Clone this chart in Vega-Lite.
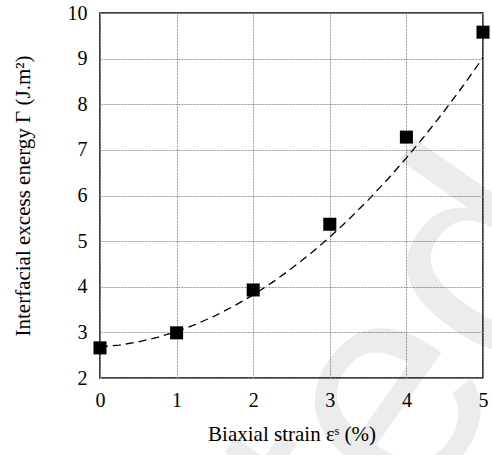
{
  "$schema": "https://vega.github.io/schema/vega-lite/v6.json",
  "autosize": {"type": "none"},
  "padding": {"left": 100, "top": 13, "right": 9, "bottom": 77},
  "width": 383,
  "height": 365,
  "background": "white",
  "config": {
    "view": {"stroke": "black", "strokeWidth": 1.5},
    "font": "Liberation Serif",
    "axis": {
      "labelFont": "Liberation Serif",
      "titleFont": "Liberation Serif",
      "labelFontSize": 20,
      "titleFontSize": 21,
      "titleFontWeight": "normal",
      "labelColor": "black",
      "titleColor": "black",
      "domain": false,
      "ticks": false,
      "grid": true,
      "gridColor": "#999999",
      "gridDash": [2, 1],
      "gridWidth": 1
    }
  },
  "datasets": {
    "points": [
      {"strain": 0, "energy": 2.66},
      {"strain": 1, "energy": 2.99},
      {"strain": 2, "energy": 3.93},
      {"strain": 3, "energy": 5.37},
      {"strain": 4, "energy": 7.28},
      {"strain": 5, "energy": 9.58}
    ],
    "fit": [
      {"strain": 0, "energy": 2.68},
      {"strain": 0.25, "energy": 2.721},
      {"strain": 0.5, "energy": 2.791},
      {"strain": 0.75, "energy": 2.891},
      {"strain": 1, "energy": 3.019},
      {"strain": 1.25, "energy": 3.176},
      {"strain": 1.5, "energy": 3.362},
      {"strain": 1.75, "energy": 3.578},
      {"strain": 2, "energy": 3.822},
      {"strain": 2.25, "energy": 4.096},
      {"strain": 2.5, "energy": 4.398},
      {"strain": 2.75, "energy": 4.73},
      {"strain": 3, "energy": 5.09},
      {"strain": 3.25, "energy": 5.48},
      {"strain": 3.5, "energy": 5.899},
      {"strain": 3.75, "energy": 6.346},
      {"strain": 4, "energy": 6.823},
      {"strain": 4.25, "energy": 7.329},
      {"strain": 4.5, "energy": 7.863},
      {"strain": 4.75, "energy": 8.427},
      {"strain": 5, "energy": 9.02}
    ],
    "watermark": [
      {"strain": 5.63, "energy": 6.0, "text": "Accepted"}
    ]
  },
  "encoding": {
    "x": {
      "field": "strain",
      "type": "quantitative",
      "scale": {"domain": [0, 5], "nice": false, "zero": false},
      "axis": {"values": [0, 1, 2, 3, 4, 5], "title": "Biaxial strain εˢ (%)", "labelPadding": 12, "titlePadding": 13, "labelFlush": false}
    },
    "y": {
      "field": "energy",
      "type": "quantitative",
      "scale": {"domain": [2, 10], "nice": false, "zero": false},
      "axis": {"values": [2, 3, 4, 5, 6, 7, 8, 9, 10], "title": "Interfacial excess energy Γ (J.m²)", "labelPadding": 13, "titlePadding": 34, "labelFlush": false}
    }
  },
  "layer": [
    {
      "data": {"name": "watermark"},
      "mark": {"type": "text", "font": "Liberation Sans", "fontSize": 300, "angle": -55, "align": "right", "baseline": "middle", "color": "black", "opacity": 0.07, "clip": false},
      "encoding": {"text": {"field": "text", "type": "nominal"}}
    },
    {
      "data": {"name": "fit"},
      "mark": {"type": "line", "color": "black", "strokeWidth": 1.3, "strokeDash": [8, 5]}
    },
    {
      "data": {"name": "points"},
      "mark": {"type": "point", "shape": "square", "filled": true, "color": "black", "opacity": 1, "size": 170}
    }
  ]
}
